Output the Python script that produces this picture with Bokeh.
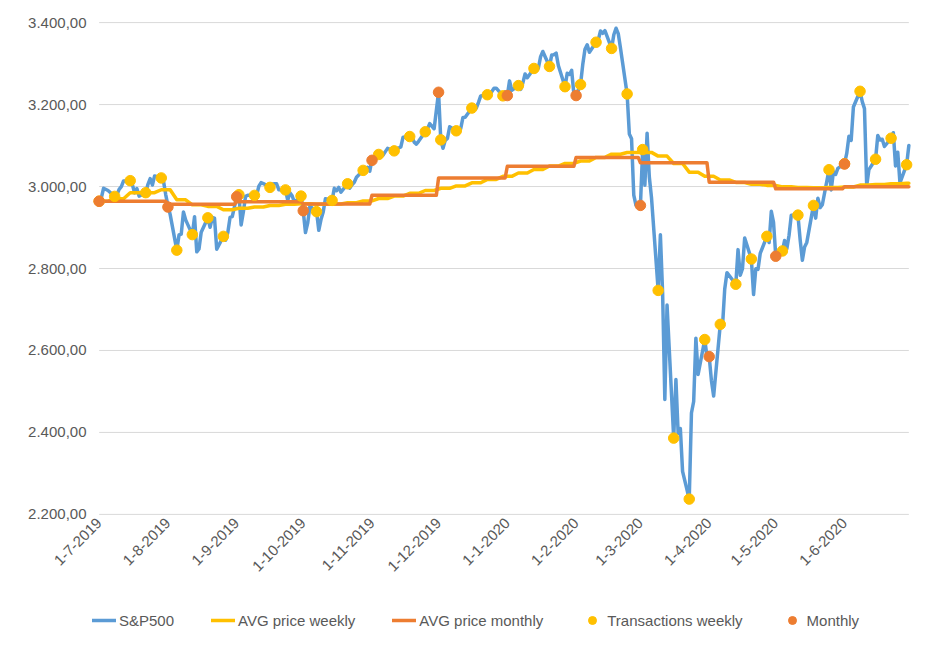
from math import pi
import pandas as pd
from bokeh.plotting import figure
from bokeh.layouts import column
from bokeh.models import (Range1d, FixedTicker, CustomJSTickFormatter, Legend,
                          LegendItem)
from bokeh.embed import file_html
from bokeh.resources import INLINE

# ---------------- data ----------------
sp500_daily = [
    ("2019-07-01", 2964.33), ("2019-07-02", 2973.01), ("2019-07-03", 2995.82), ("2019-07-05", 2990.41),
    ("2019-07-08", 2975.95), ("2019-07-09", 2979.63), ("2019-07-10", 2993.07), ("2019-07-11", 2999.91),
    ("2019-07-12", 3013.77), ("2019-07-15", 3014.30), ("2019-07-16", 3004.04), ("2019-07-17", 2984.42),
    ("2019-07-18", 2995.11), ("2019-07-19", 2976.61), ("2019-07-22", 2985.03), ("2019-07-23", 3005.47),
    ("2019-07-24", 3019.56), ("2019-07-25", 3003.67), ("2019-07-26", 3025.86), ("2019-07-29", 3020.97),
    ("2019-07-30", 3013.18), ("2019-07-31", 2980.38),
    ("2019-08-01", 2953.56), ("2019-08-02", 2932.05), ("2019-08-05", 2844.74), ("2019-08-06", 2881.77),
    ("2019-08-07", 2883.98), ("2019-08-08", 2938.09), ("2019-08-09", 2918.65), ("2019-08-12", 2882.70),
    ("2019-08-13", 2926.32), ("2019-08-14", 2840.60), ("2019-08-15", 2847.60), ("2019-08-16", 2888.68),
    ("2019-08-19", 2923.65), ("2019-08-20", 2900.51), ("2019-08-21", 2924.43), ("2019-08-22", 2922.95),
    ("2019-08-23", 2847.11), ("2019-08-26", 2878.38), ("2019-08-27", 2869.16), ("2019-08-28", 2887.94),
    ("2019-08-29", 2924.58), ("2019-08-30", 2926.46),
    ("2019-09-01", 2975.00), ("2019-09-02", 2980.00), ("2019-09-03", 2906.27), ("2019-09-04", 2937.78),
    ("2019-09-05", 2976.00), ("2019-09-06", 2978.71), ("2019-09-09", 2978.43), ("2019-09-10", 2979.39),
    ("2019-09-11", 3000.93), ("2019-09-12", 3009.57), ("2019-09-13", 3007.39), ("2019-09-16", 2997.96),
    ("2019-09-17", 3005.70), ("2019-09-18", 3006.73), ("2019-09-19", 3006.79), ("2019-09-20", 2992.07),
    ("2019-09-23", 2991.78), ("2019-09-24", 2966.60), ("2019-09-25", 2984.87), ("2019-09-26", 2977.62),
    ("2019-09-27", 2961.79), ("2019-09-30", 2976.74),
    ("2019-10-01", 2940.25), ("2019-10-02", 2887.61), ("2019-10-03", 2910.63), ("2019-10-04", 2952.01),
    ("2019-10-07", 2938.79), ("2019-10-08", 2893.06), ("2019-10-09", 2919.40), ("2019-10-10", 2938.13),
    ("2019-10-11", 2970.27), ("2019-10-14", 2966.15), ("2019-10-15", 2995.68), ("2019-10-16", 2989.69),
    ("2019-10-17", 2997.95), ("2019-10-18", 2986.20), ("2019-10-21", 3006.72), ("2019-10-22", 2995.99),
    ("2019-10-23", 3004.52), ("2019-10-24", 3010.29), ("2019-10-25", 3022.55), ("2019-10-28", 3039.42),
    ("2019-10-29", 3036.89), ("2019-10-30", 3046.77), ("2019-10-31", 3037.56),
    ("2019-11-01", 3066.91), ("2019-11-04", 3078.27), ("2019-11-05", 3074.62), ("2019-11-06", 3076.78),
    ("2019-11-07", 3085.18), ("2019-11-08", 3093.08), ("2019-11-11", 3087.01), ("2019-11-12", 3091.84),
    ("2019-11-13", 3094.04), ("2019-11-14", 3096.63), ("2019-11-15", 3120.46), ("2019-11-18", 3122.03),
    ("2019-11-19", 3120.18), ("2019-11-20", 3108.46), ("2019-11-21", 3103.54), ("2019-11-22", 3110.29),
    ("2019-11-25", 3133.64), ("2019-11-26", 3140.52), ("2019-11-27", 3153.63), ("2019-11-29", 3140.98),
    ("2019-12-01", 3230.00), ("2019-12-02", 3113.87), ("2019-12-03", 3093.20), ("2019-12-04", 3112.76),
    ("2019-12-05", 3117.43), ("2019-12-06", 3145.91), ("2019-12-09", 3135.96), ("2019-12-10", 3132.52),
    ("2019-12-11", 3141.63), ("2019-12-12", 3168.57), ("2019-12-13", 3168.80), ("2019-12-16", 3191.45),
    ("2019-12-17", 3192.52), ("2019-12-18", 3191.14), ("2019-12-19", 3205.37), ("2019-12-20", 3221.22),
    ("2019-12-23", 3224.01), ("2019-12-24", 3223.38), ("2019-12-26", 3239.91), ("2019-12-27", 3240.02),
    ("2019-12-30", 3221.29), ("2019-12-31", 3230.78),
    ("2020-01-01", 3222.00), ("2020-01-02", 3257.85), ("2020-01-03", 3234.85), ("2020-01-06", 3246.28),
    ("2020-01-07", 3237.18), ("2020-01-08", 3253.05), ("2020-01-09", 3274.70), ("2020-01-10", 3265.35),
    ("2020-01-13", 3288.13), ("2020-01-14", 3283.15), ("2020-01-15", 3289.29), ("2020-01-16", 3316.81),
    ("2020-01-17", 3329.62), ("2020-01-20", 3293.00), ("2020-01-21", 3320.79), ("2020-01-22", 3321.75),
    ("2020-01-23", 3325.54), ("2020-01-24", 3295.47), ("2020-01-27", 3243.63), ("2020-01-28", 3276.24),
    ("2020-01-29", 3273.40), ("2020-01-30", 3283.66), ("2020-01-31", 3225.52),
    ("2020-02-01", 3222.00), ("2020-02-03", 3248.92), ("2020-02-04", 3297.59), ("2020-02-05", 3334.69),
    ("2020-02-06", 3345.78), ("2020-02-07", 3327.71), ("2020-02-10", 3352.09), ("2020-02-11", 3357.75),
    ("2020-02-12", 3379.45), ("2020-02-13", 3373.94), ("2020-02-14", 3380.16), ("2020-02-17", 3337.00),
    ("2020-02-18", 3370.29), ("2020-02-19", 3386.15), ("2020-02-20", 3373.23), ("2020-02-21", 3337.75),
    ("2020-02-24", 3225.89), ("2020-02-25", 3128.21), ("2020-02-26", 3116.39), ("2020-02-27", 2978.76),
    ("2020-02-28", 2954.22),
    ("2020-03-01", 2954.00), ("2020-03-02", 3090.23), ("2020-03-03", 3003.37), ("2020-03-04", 3130.12),
    ("2020-03-05", 3023.94), ("2020-03-06", 2972.37), ("2020-03-09", 2746.56), ("2020-03-10", 2882.23),
    ("2020-03-11", 2741.38), ("2020-03-12", 2480.64), ("2020-03-13", 2711.02), ("2020-03-16", 2386.13),
    ("2020-03-17", 2529.19), ("2020-03-18", 2398.10), ("2020-03-19", 2409.39), ("2020-03-20", 2304.92),
    ("2020-03-23", 2237.40), ("2020-03-24", 2447.33), ("2020-03-25", 2475.56), ("2020-03-26", 2630.07),
    ("2020-03-27", 2541.47), ("2020-03-30", 2626.65), ("2020-03-31", 2584.59),
    ("2020-04-01", 2585.00), ("2020-04-02", 2526.90), ("2020-04-03", 2488.65), ("2020-04-06", 2663.68),
    ("2020-04-07", 2659.41), ("2020-04-08", 2749.98), ("2020-04-09", 2789.82), ("2020-04-13", 2761.63),
    ("2020-04-14", 2846.06), ("2020-04-15", 2783.36), ("2020-04-16", 2799.55), ("2020-04-17", 2874.56),
    ("2020-04-20", 2823.16), ("2020-04-21", 2736.56), ("2020-04-22", 2799.31), ("2020-04-23", 2797.80),
    ("2020-04-24", 2836.74), ("2020-04-27", 2878.48), ("2020-04-28", 2863.39), ("2020-04-29", 2939.51),
    ("2020-04-30", 2912.43),
    ("2020-05-01", 2830.71), ("2020-05-04", 2842.74), ("2020-05-05", 2868.44), ("2020-05-06", 2848.42),
    ("2020-05-07", 2881.19), ("2020-05-08", 2929.80), ("2020-05-11", 2930.32), ("2020-05-12", 2870.12),
    ("2020-05-13", 2820.00), ("2020-05-14", 2852.50), ("2020-05-15", 2863.70), ("2020-05-18", 2953.91),
    ("2020-05-19", 2922.94), ("2020-05-20", 2971.61), ("2020-05-21", 2948.51), ("2020-05-22", 2955.45),
    ("2020-05-25", 3041.00), ("2020-05-26", 2991.77), ("2020-05-27", 3036.13), ("2020-05-28", 3029.73),
    ("2020-05-29", 3044.31),
    ("2020-06-01", 3055.73), ("2020-06-02", 3080.82), ("2020-06-03", 3122.87), ("2020-06-04", 3112.35),
    ("2020-06-05", 3193.93), ("2020-06-08", 3232.39), ("2020-06-09", 3207.18), ("2020-06-10", 3190.14),
    ("2020-06-11", 3002.10), ("2020-06-12", 3041.31), ("2020-06-15", 3066.59), ("2020-06-16", 3124.74),
    ("2020-06-17", 3113.49), ("2020-06-18", 3115.34), ("2020-06-19", 3097.74), ("2020-06-22", 3117.86),
    ("2020-06-23", 3131.29), ("2020-06-24", 3050.33), ("2020-06-25", 3083.76), ("2020-06-26", 3009.05),
    ("2020-06-29", 3053.24), ("2020-06-30", 3100.29),
]

week_dates = [
    "2019-07-01", "2019-07-08", "2019-07-15", "2019-07-22", "2019-07-29", "2019-08-05", "2019-08-12",
    "2019-08-19", "2019-08-26", "2019-09-02", "2019-09-09", "2019-09-16", "2019-09-23", "2019-09-30",
    "2019-10-07", "2019-10-14", "2019-10-21", "2019-10-28", "2019-11-04", "2019-11-11", "2019-11-18",
    "2019-11-25", "2019-12-02", "2019-12-09", "2019-12-16", "2019-12-23", "2019-12-30", "2020-01-06",
    "2020-01-13", "2020-01-20", "2020-01-27", "2020-02-03", "2020-02-10", "2020-02-17", "2020-02-24",
    "2020-03-02", "2020-03-09", "2020-03-16", "2020-03-23", "2020-03-30", "2020-04-06", "2020-04-13",
    "2020-04-20", "2020-04-27", "2020-05-04", "2020-05-11", "2020-05-18", "2020-05-25", "2020-06-01",
    "2020-06-08", "2020-06-15", "2020-06-22", "2020-06-29",
]
week_price = [
    2964.33, 2975.95, 3014.30, 2985.03, 3020.97, 2844.74, 2882.70, 2923.65, 2878.38, 2980.00,
    2978.43, 2997.96, 2991.78, 2976.74, 2938.79, 2966.15, 3006.72, 3039.42, 3078.27, 3087.01,
    3122.03, 3133.64, 3113.87, 3135.96, 3191.45, 3224.01, 3221.29, 3246.28, 3288.13, 3293.00,
    3243.63, 3248.92, 3352.09, 3337.00, 3225.89, 3090.23, 2746.56, 2386.13, 2237.40, 2626.65,
    2663.68, 2761.63, 2823.16, 2878.48, 2842.74, 2930.32, 2953.91, 3041.00, 3055.73, 3232.39,
    3066.59, 3117.86, 3053.24,
]
week_avg = [
    2964.3, 2970.1, 2984.9, 2984.9, 2992.1, 2967.6, 2955.4, 2951.5, 2943.3, 2947.0,
    2949.9, 2953.9, 2956.8, 2958.2, 2956.9, 2957.5, 2960.4, 2964.8, 2970.8, 2976.6,
    2983.5, 2990.3, 2995.7, 3001.5, 3009.1, 3017.4, 3024.9, 3032.9, 3041.7, 3050.0,
    3056.3, 3062.3, 3071.1, 3078.9, 3083.1, 3083.3, 3074.2, 3056.1, 3035.1, 3024.9,
    3016.1, 3010.0, 3005.7, 3002.8, 2999.2, 2997.7, 2996.8, 2997.7, 2998.9, 3003.6,
    3004.8, 3006.9, 3007.9,
]

month_dates = ["2019-07-01", "2019-08-01", "2019-09-01", "2019-10-01", "2019-11-01", "2019-12-01",
               "2020-01-01", "2020-02-01", "2020-03-01", "2020-04-01", "2020-05-01", "2020-06-01"]
month_price = [2964, 2950, 2975, 2941, 3064, 3230, 3222, 3222, 2954, 2585, 2830, 3055]
month_avg = [2964.0, 2957.0, 2963.0, 2957.5, 2978.8, 3020.7, 3049.4, 3071.0, 3058.0, 3010.7, 2994.3, 2999.3]

x_tick_labels = ["1-7-2019", "1-8-2019", "1-9-2019", "1-10-2019", "1-11-2019", "1-12-2019",
                 "1-1-2020", "1-2-2020", "1-3-2020", "1-4-2020", "1-5-2020", "1-6-2020"]
y_ticks = [2200, 2400, 2600, 2800, 3000, 3200, 3400]
legend_labels = ["S&P500", "AVG price weekly", "AVG price monthly", "Transactions weekly", "Monthly"]

period_start = "2019-07-01"
period_end = "2020-06-30"

# ---------------- styling ----------------
BLUE = "#5B9BD5"
YELLOW = "#FFC000"
ORANGE = "#ED7D31"
TEXT = "#595959"
GRID = "#D9D9D9"
FONT = "Liberation Sans"
LW = 3.5
DOT = 10.5

sp_dt = pd.to_datetime([d for d, _ in sp500_daily])
sp_val = [v for _, v in sp500_daily]
wk_dt = pd.to_datetime(week_dates)
mo_dt = pd.to_datetime(month_dates)
t_end = pd.Timestamp(period_end)

# weekly average: held Monday..Friday, then moves to the next week's value
wk_x, wk_y = [], []
for d, a in zip(wk_dt, week_avg):
    wk_x += [d, min(d + pd.Timedelta(days=4), t_end)]
    wk_y += [a, a]

# monthly average: held for the whole month
mo_x, mo_y = [], []
for i, (d, a) in enumerate(zip(mo_dt, month_avg)):
    nxt = mo_dt[i + 1] - pd.Timedelta(days=1) if i + 1 < len(mo_dt) else t_end
    mo_x += [d, nxt]
    mo_y += [a, a]

x0 = pd.Timestamp(period_start) - pd.Timedelta(days=3)
x1 = t_end + pd.Timedelta(days=3)

p = figure(x_axis_type="datetime", frame_width=823, frame_height=500,
           min_border_left=92, min_border_right=22, min_border_top=18, min_border_bottom=84,
           x_range=Range1d(x0, x1), y_range=Range1d(2190, 3410),
           output_backend="svg", toolbar_location=None)
p.background_fill_color = "white"
p.border_fill_color = "white"
p.outline_line_color = None
p.xgrid.grid_line_color = None
p.ygrid.grid_line_color = None

# horizontal gridlines spanning the period
p.segment(x0=[pd.Timestamp(period_start)] * len(y_ticks), x1=[t_end] * len(y_ticks),
          y0=y_ticks, y1=y_ticks, line_color=GRID, line_width=1)

p.line(sp_dt, sp_val, line_color=BLUE, line_width=LW, line_join="round", line_cap="round")
p.line(wk_x, wk_y, line_color=YELLOW, line_width=LW, line_join="round", line_cap="round")
p.line(mo_x, mo_y, line_color=ORANGE, line_width=LW, line_join="round", line_cap="round")
p.scatter(wk_dt, week_price, size=DOT, fill_color=YELLOW, line_color=YELLOW)
p.scatter(mo_dt, month_price, size=DOT, fill_color=ORANGE, line_color=ORANGE)

# axes
p.yaxis.ticker = FixedTicker(ticks=y_ticks)
p.yaxis.formatter = CustomJSTickFormatter(code="""
const s = tick.toFixed(2);
const parts = s.split('.');
return parts[0].replace(/\\B(?=(\\d{3})+(?!\\d))/g, '.') + ',' + parts[1];
""")
x_ticks = [int(pd.Timestamp(d).value // 10**6) for d in month_dates]
p.xaxis.ticker = FixedTicker(ticks=x_ticks)
p.xaxis.formatter = CustomJSTickFormatter(args=dict(tvals=x_ticks, tlabels=x_tick_labels), code="""
let best = -1, bd = Infinity;
for (let i = 0; i < tvals.length; i++) {
  const dd = Math.abs(tvals[i] - tick);
  if (dd < bd) { bd = dd; best = i; }
}
return bd < 86400000 ? tlabels[best] : '';
""")
for ax in (p.xaxis[0], p.yaxis[0]):
    ax.axis_line_color = None
    ax.major_tick_line_color = None
    ax.minor_tick_line_color = None
    ax.major_tick_out = 0
    ax.major_tick_in = 0
    ax.major_label_text_color = TEXT
    ax.major_label_text_font = FONT
    ax.major_label_text_font_size = "15px"
p.yaxis.major_label_standoff = 6
p.xaxis.major_label_orientation = pi / 4
p.xaxis.major_label_standoff = 2

# ---------------- legend strip below the chart ----------------
lg = figure(frame_width=823, frame_height=40, min_border_left=92, min_border_right=22,
            min_border_top=0, min_border_bottom=0,
            x_range=Range1d(0, 1), y_range=Range1d(0, 1),
            x_axis_location=None, y_axis_location=None,
            output_backend="svg", toolbar_location=None)
lg.outline_line_color = None
lg.xgrid.grid_line_color = None
lg.ygrid.grid_line_color = None
lg.background_fill_color = "white"
lg.border_fill_color = "white"
# swatch renderers (their single point lies outside the strip's range, only the legend shows them)
k_sp = lg.line([5], [5], line_color=BLUE, line_width=LW, line_cap="round")
k_wa = lg.line([5], [5], line_color=YELLOW, line_width=LW, line_cap="round")
k_ma = lg.line([5], [5], line_color=ORANGE, line_width=LW, line_cap="round")
k_wt = lg.scatter([5], [5], size=DOT, fill_color=YELLOW, line_color=YELLOW)
k_mt = lg.scatter([5], [5], size=DOT, fill_color=ORANGE, line_color=ORANGE)

legend = Legend(items=[LegendItem(label=t, renderers=[r]) for t, r in
                       zip(legend_labels, [k_sp, k_wa, k_ma, k_wt, k_mt])],
                orientation="horizontal", location=(0, 12))
legend.margin = 0
legend.padding = 0
legend.spacing = 37
legend.glyph_width = 24
legend.glyph_height = 20
legend.label_standoff = 3
legend.label_text_font = FONT
legend.label_text_font_size = "15px"
legend.label_text_color = TEXT
legend.border_line_color = None
legend.background_fill_alpha = 0
lg.add_layout(legend, "center")

layout = column(p, lg, spacing=0)
open("out.html", "w").write(file_html(layout, INLINE))
